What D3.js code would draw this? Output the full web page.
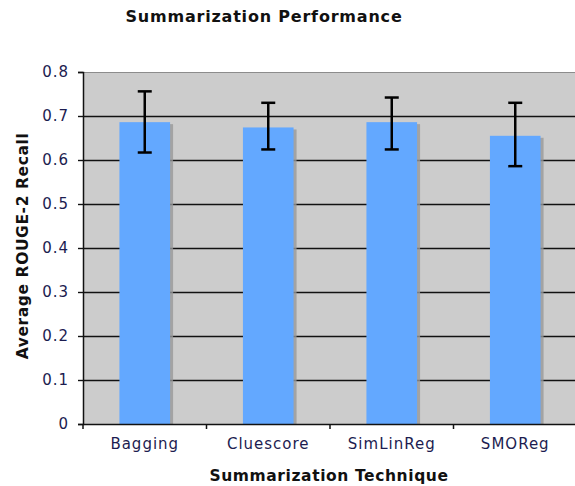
<!DOCTYPE html>
<html>
<head>
<meta charset="utf-8">
<script src="https://cdn.jsdelivr.net/npm/d3@7"></script>
<style>
  body { margin: 0; background: #fff; }
  svg { display: block; }
  text { font-family: "DejaVu Sans", Verdana, sans-serif; }
</style>
</head>
<body>
<div id="chart"></div>
<script>
// chart data
var techniques = ["Bagging", "Cluescore", "SimLinReg", "SMOReg"];
var recall = [0.686, 0.674, 0.686, 0.655];
var errLow = [0.617, 0.624, 0.624, 0.586];
var errHigh = [0.756, 0.730, 0.742, 0.730];
var yTicks = [0, 0.1, 0.2, 0.3, 0.4, 0.5, 0.6, 0.7, 0.8];

var width = 575, height = 486;
var margin = { top: 72, right: -2, bottom: 62, left: 83 };
var innerW = width - margin.left - margin.right,
    innerH = height - margin.top - margin.bottom;

var svg = d3.select("#chart").append("svg")
    .attr("width", width)
    .attr("height", height);

var x = d3.scaleBand()
    .domain(techniques)
    .range([0, innerW])
    .paddingInner(0.59)
    .paddingOuter(0.295);

var y = d3.scaleLinear()
    .domain([0, 0.8])
    .range([innerH, 0]);

var g = svg.append("g")
    .attr("transform", "translate(" + margin.left + "," + margin.top + ")");

// plot background
g.append("rect")
    .attr("width", innerW)
    .attr("height", innerH)
    .attr("fill", "#cccccc");

g.append("line")
    .attr("x1", 0).attr("x2", innerW)
    .attr("y1", 0.5).attr("y2", 0.5)
    .attr("stroke", "#8c8c8c")
    .attr("stroke-width", 1);

// gridlines
g.selectAll(".grid")
    .data(yTicks.filter(function (d) { return d > 0 && d < 0.8; }))
    .enter().append("line")
    .attr("class", "grid")
    .attr("x1", 0).attr("x2", innerW)
    .attr("y1", function (d) { return Math.round(y(d)) + 0.5; })
    .attr("y2", function (d) { return Math.round(y(d)) + 0.5; })
    .attr("stroke", "#111")
    .attr("stroke-width", 1.4);

var data = techniques.map(function (t, i) {
    return { name: t, value: recall[i], lo: errLow[i], hi: errHigh[i] };
});

// bar shadows
g.selectAll(".shadow")
    .data(data)
    .enter().append("rect")
    .attr("class", "shadow")
    .attr("x", function (d) { return x(d.name) + 3; })
    .attr("y", function (d) { return y(d.value) + 2; })
    .attr("width", x.bandwidth())
    .attr("height", function (d) { return innerH - y(d.value) - 2; })
    .attr("fill", "#999999")
    .attr("opacity", 0.8);

g.selectAll(".bar")
    .data(data)
    .enter().append("rect")
    .attr("class", "bar")
    .attr("x", function (d) { return x(d.name); })
    .attr("y", function (d) { return y(d.value); })
    .attr("width", x.bandwidth())
    .attr("height", function (d) { return innerH - y(d.value); })
    .attr("fill", "#63a8ff");

// error bars
var cap = 7;
var err = g.selectAll(".err")
    .data(data)
    .enter().append("g")
    .attr("class", "err")
    .attr("stroke", "#000")
    .attr("stroke-width", 2.5);
err.append("line")
    .attr("x1", function (d) { return x(d.name) + x.bandwidth() / 2; })
    .attr("x2", function (d) { return x(d.name) + x.bandwidth() / 2; })
    .attr("y1", function (d) { return y(d.lo); })
    .attr("y2", function (d) { return y(d.hi); });
err.append("line")
    .attr("x1", function (d) { return x(d.name) + x.bandwidth() / 2 - cap; })
    .attr("x2", function (d) { return x(d.name) + x.bandwidth() / 2 + cap; })
    .attr("y1", function (d) { return y(d.hi); })
    .attr("y2", function (d) { return y(d.hi); });
err.append("line")
    .attr("x1", function (d) { return x(d.name) + x.bandwidth() / 2 - cap; })
    .attr("x2", function (d) { return x(d.name) + x.bandwidth() / 2 + cap; })
    .attr("y1", function (d) { return y(d.lo); })
    .attr("y2", function (d) { return y(d.lo); });

// axes
var yAxis = d3.axisLeft(y)
    .tickValues(yTicks)
    .tickSize(5)
    .tickPadding(9)
    .tickFormat(function (d) { return d === 0 ? "0" : d3.format(".1f")(d); });

var ya = g.append("g").attr("class", "axis y").call(yAxis);
ya.select(".domain").attr("stroke", "#111").attr("stroke-width", 1.5);
ya.selectAll(".tick line").attr("stroke", "#111").attr("stroke-width", 1.4);
ya.selectAll("text")
    .attr("fill", "#1c1c50")
    .style("font-size", "15px")
    .style("letter-spacing", "1px")
    .style("font-family", "DejaVu Sans, Verdana, sans-serif");

var xAxis = d3.axisBottom(x).tickSize(0).tickPadding(14);
var xa = g.append("g")
    .attr("class", "axis x")
    .attr("transform", "translate(0," + innerH + ")")
    .call(xAxis);
xa.select(".domain").attr("stroke", "#111").attr("stroke-width", 1.5);
xa.selectAll("text")
    .attr("fill", "#1c1c50")
    .style("font-size", "15px")
    .style("letter-spacing", "1px")
    .style("font-family", "DejaVu Sans, Verdana, sans-serif");

// category boundary ticks
xa.selectAll(".sep")
    .data(d3.range(techniques.length + 1))
    .enter().append("line")
    .attr("class", "sep")
    .attr("x1", function (i) { return i * x.step(); })
    .attr("x2", function (i) { return i * x.step(); })
    .attr("y1", 0).attr("y2", 5)
    .attr("stroke", "#111")
    .attr("stroke-width", 1.5);

// titles
svg.append("text")
    .attr("x", 264)
    .attr("y", 22)
    .attr("text-anchor", "middle")
    .style("font-size", "16px")
    .style("font-weight", "bold")
    .style("letter-spacing", "0.8px")
    .attr("fill", "#111")
    .text("Summarization Performance");

svg.append("text")
    .attr("x", margin.left + innerW / 2 - 1)
    .attr("y", 481)
    .attr("text-anchor", "middle")
    .style("font-size", "15.5px")
    .style("font-weight", "bold")
    .style("letter-spacing", "0.6px")
    .attr("fill", "#111")
    .text("Summarization Technique");

svg.append("text")
    .attr("transform", "translate(28,246) rotate(-90)")
    .attr("text-anchor", "middle")
    .style("font-size", "15.5px")
    .style("font-weight", "bold")
    .style("letter-spacing", "0.6px")
    .attr("fill", "#111")
    .text("Average ROUGE-2 Recall");
</script>
</body>
</html>
